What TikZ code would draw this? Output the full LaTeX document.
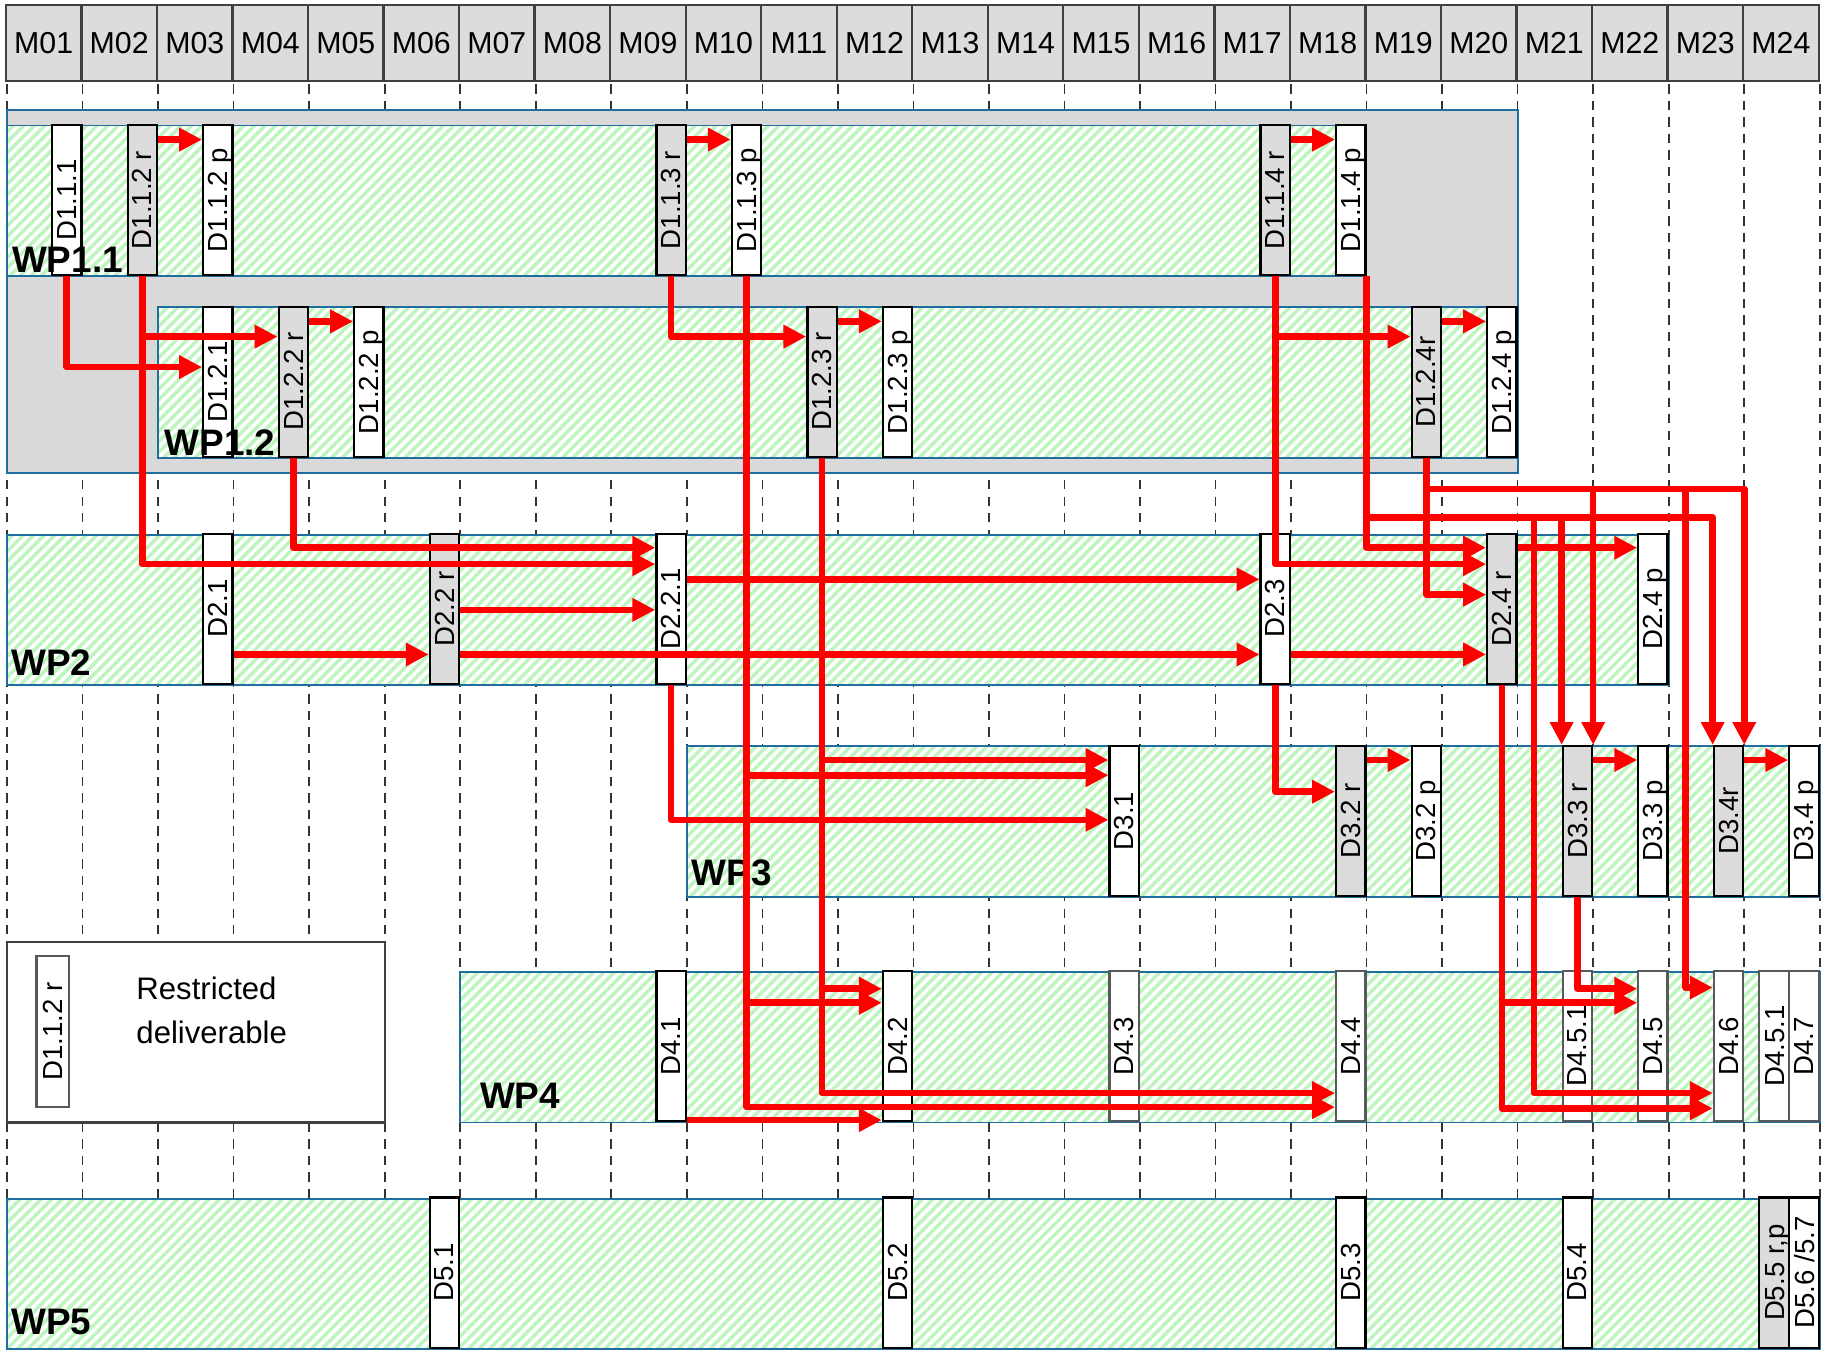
\documentclass[tikz,border=0pt]{standalone}
\usepackage{fontspec}
\setmainfont{Liberation Sans}
\usepackage{tikz}
\usetikzlibrary{arrows.meta,positioning,calc,patterns.meta}
\definecolor{HeadGray}{HTML}{DCDCDC}
\definecolor{HeadLine}{HTML}{404040}
\definecolor{WPBlue}{HTML}{1F6E9E}
\definecolor{WPGray}{HTML}{D9D9D9}
\definecolor{HatchGreen}{HTML}{BEF5BE}
\definecolor{GridGray}{HTML}{333333}
\newcommand{\dtxt}[1]{\rotatebox{90}{\raisebox{0pt}[\height][0pt]{#1}}}

\tikzset{
  month/.style={draw=HeadLine,line width=1.1pt,fill=HeadGray,minimum width=1.288cm,
    minimum height=1.29cm,inner sep=0pt,anchor=north east,font=\fontsize{14.7}{16}\selectfont},
  gridline/.style={draw=GridGray,line width=0.8pt,dash pattern=on 4.5pt off 3.5pt},
  wp/.style={draw=WPBlue,line width=0.85pt,preaction={fill=white},
    pattern={Lines[angle=45,distance=3.6pt,line width=1.7pt]},pattern color=HatchGreen},
  wpouter/.style={draw=WPBlue,line width=0.85pt,fill=WPGray},
  wplabel/.style={anchor=base west,inner sep=0pt,font=\fontsize{17.9}{20}\selectfont\bfseries},
  deliv/.style={draw=black,line width=1.1pt,fill=white,minimum width=0.5cm,minimum height=2.56cm,
    inner sep=0pt,anchor=south east,font=\fontsize{13.4}{15}\selectfont},
  delivg/.style={deliv,draw=black!65},
  restr/.style={deliv,fill=HeadGray},
  legendbox/.style={draw=HeadLine,line width=1.1pt,fill=white},
  legendtext/.style={anchor=north west,align=left,inner sep=0pt,font=\fontsize{15.1}{21}\selectfont},
  dep/.style={draw=red,line width=3.2pt,line join=round,-{Triangle[length=0.39cm,width=0.38cm]}},
}

\begin{document}
\begin{tikzpicture}[x=0.02cm,y=-0.02cm]
\useasboundingbox (0,0) rectangle (1568,1156);

% months
\foreach \k in {0,...,24}
  \draw[gridline] ({6+64.4*\k},72) -- ({6+64.4*\k},1150);
\foreach \k in {1,...,24}
  \node[month] (m\k) at ({6+64.4*\k},3.5) {M\ifnum\k<10 0\fi\k};

% work packages
\draw[wpouter] (6,94) rectangle (1294,403.5);
\draw[wp] (6,107) rectangle (1165.2,235.5);
\draw[wp] (134.8,262) rectangle (1294,390.5);
\draw[wp] (6,456) rectangle (1422.8,584);
\draw[wp] (585.6,636) rectangle (1551.6,765);
\draw[wp] (392.4,829) rectangle (1551.6,957);
\draw[wp] (6,1022) rectangle (1551.6,1150);

% legend
\draw[legendbox] (6,803) rectangle (328,957);
\node[deliv,draw=black!65,minimum width=0.56cm,minimum height=2.58cm] (legsample) at (60,945) {\dtxt{D1.1.2 r}};
\node[legendtext] (legtext) at (116,833) {Restricted\\deliverable};

% deliverables
\foreach \nm/\m/\txt/\st in {d111/1/D1.1.1/deliv, d112r/2/D1.1.2 r/restr, d112p/3/D1.1.2 p/deliv,
    d113r/9/D1.1.3 r/restr, d113p/10/D1.1.3 p/deliv, d114r/17/D1.1.4 r/restr, d114p/18/D1.1.4 p/deliv}
  \node[\st] (\nm) at ({6+64.4*\m},235.5) {\dtxt{\txt}};
\foreach \nm/\m/\txt/\st in {d121/3/D1.2.1/deliv, d122r/4/D1.2.2 r/restr, d122p/5/D1.2.2 p/deliv,
    d123r/11/D1.2.3 r/restr, d123p/12/D1.2.3 p/deliv, d124r/19/D1.2.4r/restr, d124p/20/D1.2.4 p/deliv}
  \node[\st] (\nm) at ({6+64.4*\m},390.5) {\dtxt{\txt}};
\foreach \nm/\m/\txt/\st in {d21/3/D2.1/deliv, d22r/6/D2.2 r/restr, d221/9/D2.2.1/deliv,
    d23/17/D2.3/deliv, d24r/20/D2.4 r/restr, d24p/22/D2.4 p/deliv}
  \node[\st] (\nm) at ({6+64.4*\m},584) {\dtxt{\txt}};
\foreach \nm/\m/\txt/\st in {d31/15/D3.1/deliv, d32r/18/D3.2 r/restr, d32p/19/D3.2 p/deliv,
    d33r/21/D3.3 r/restr, d33p/22/D3.3 p/deliv, d34r/23/D3.4r/restr, d34p/24/D3.4 p/deliv}
  \node[\st] (\nm) at ({6+64.4*\m},765) {\dtxt{\txt}};
\foreach \nm/\m/\txt/\st in {d41/9/D4.1/deliv, d42/12/D4.2/deliv, d43/15/D4.3/delivg,
    d44/18/D4.4/delivg, d451/21/D4.5.1/delivg, d45/22/D4.5/delivg, d46/23/D4.6/delivg}
  \node[\st] (\nm) at ({6+64.4*\m},957) {\dtxt{\txt}};
\node[delivg,minimum width=0.52cm] (d451b) at (1527,957) {\dtxt{D4.5.1}};
\node[delivg,minimum width=0.5cm] (d47) at (1551.6,957) {\dtxt{D4.7}};
\foreach \nm/\m/\txt in {d51/6/D5.1, d52/12/D5.2, d53/18/D5.3, d54/21/D5.4}
  \node[deliv] (\nm) at ({6+64.4*\m},1150) {\dtxt{\txt}};
\node[restr,minimum width=0.52cm] (d55) at (1527,1150) {\dtxt{D5.5 r,p}};
\node[deliv,minimum width=0.5cm] (d56) at (1551.6,1150) {\dtxt{D5.6 /5.7}};

% WP labels
\node[wplabel] (lwp11) at (10,232) {WP1.1};
\node[wplabel] (lwp12) at (140,388) {WP1.2};
\node[wplabel] (lwp2) at (9.5,576) {WP2};
\node[wplabel] (lwp3) at (589.5,755) {WP3};
\node[wplabel] (lwp4) at (409,945) {WP4};
\node[wplabel] (lwp5) at (9.5,1138) {WP5};

% restricted -> public
\foreach \a/\b/\y in {d112r/d112p/119, d113r/d113p/119, d114r/d114p/119,
    d122r/d122p/274, d123r/d123p/274, d124r/d124p/274,
    d32r/d32p/648, d33r/d33p/648, d34r/d34p/648, d24r/d24p/467}
  \draw[dep] (\a.east |- 0,\y) -- (\b.west |- 0,\y);

% WP1 -> WP1.2, WP2
\draw[dep] (d111.south) |- (d121.west |- 0,313);
\draw[dep] (d112r.south) |- (d221.west |- 0,481);
\draw[dep] (d112r.south |- 0,287) -- (d122r.west |- 0,287);
\draw[dep] (d122r.south) |- (d221.west |- 0,467);
\draw[dep] (d113r.south) |- (d123r.west |- 0,287);
\draw[dep] (d114r.south) |- (d24r.west |- 0,481);
\draw[dep] (d114r.south |- 0,287) -- (d124r.west |- 0,287);

% inside WP2
\draw[dep] (d21.east |- 0,558) -- (d22r.west |- 0,558);
\draw[dep] (d22r.east |- 0,520) -- (d221.west |- 0,520);
\draw[dep] (d22r.east |- 0,558) -- (d23.west |- 0,558);
\draw[dep] (d221.east |- 0,494) -- (d23.west |- 0,494);
\draw[dep] (d23.east |- 0,558) -- (d24r.west |- 0,558);

% down to WP3 and WP4
\draw[dep] (d113p.south) |- (d44.west |- 0,944);
\draw[dep] (d113p.south |- 0,661) -- (d31.west |- 0,661);
\draw[dep] (d113p.south |- 0,855) -- (d42.west |- 0,855);
\draw[dep] (d123r.south) |- (d44.west |- 0,932);
\draw[dep] (d123r.south |- 0,648) -- (d31.west |- 0,648);
\draw[dep] (d123r.south |- 0,843) -- (d42.west |- 0,843);
\draw[dep] (d221.south) |- (d31.west |- 0,699);
\draw[dep] (d23.south) |- (d32r.west |- 0,675);
\draw[dep] (d41.east |- 0,955) -- (d42.west |- 0,955);

% end of WP1 -> D2.4, WP3, WP4
\coordinate (j1) at (1308,441);
\coordinate (j2) at (1437,417);
\draw[dep] (d114p.south east) |- (d24r.west |- 0,467);
\draw[dep] (d114p.south east |- 0,441) -| (d34r.north west);
\draw[dep] (d33r.north west |- 0,441) -- (d33r.north west);
\draw[dep] (j1) |- (d46.west |- 0,932);
\draw[dep] (d124r.south) |- (d24r.west |- 0,507);
\draw[dep] (d124r.south |- 0,417) -| (d34r.north east);
\draw[dep] (d33r.north east |- 0,417) -- (d33r.north east);
\draw[dep] (j2) |- (d46.west |- 0,842);
\draw[dep] (d24r.south) |- (d46.west |- 0,945);
\draw[dep] (d24r.south |- 0,855) -- (d45.west |- 0,855);
\draw[dep] (d33r.south) |- (d45.west |- 0,843);
\end{tikzpicture}
\end{document}
